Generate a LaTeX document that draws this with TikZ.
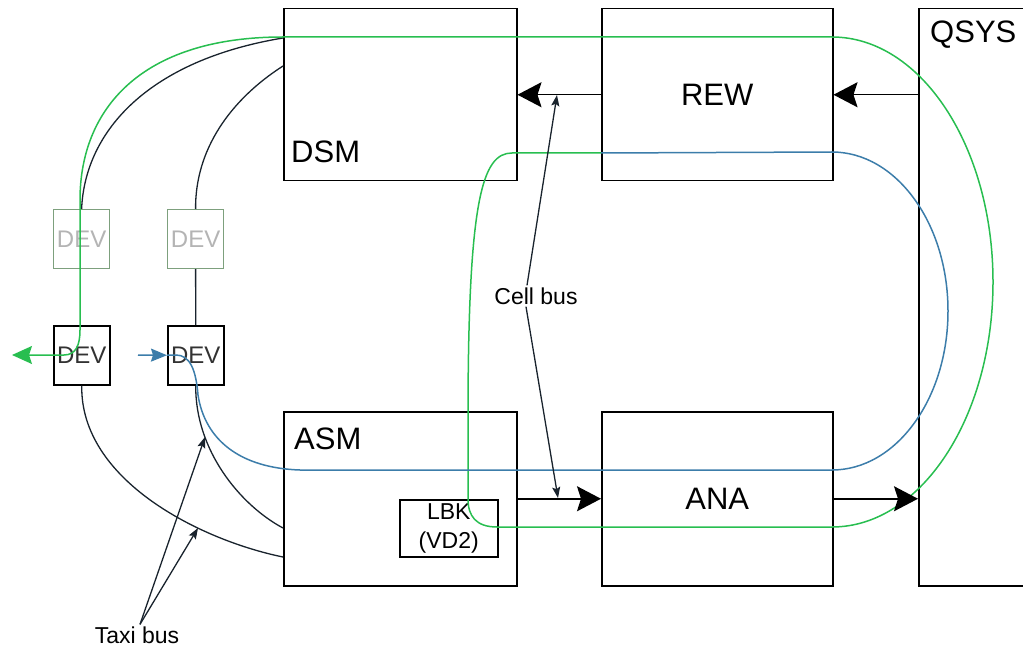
\documentclass[tikz,border=0pt]{standalone}
\usepackage{fontspec}
\setmainfont{Liberation Sans}
\usetikzlibrary{arrows.meta,calc}
\definecolor{gline}{RGB}{40,190,80}
\definecolor{bline}{RGB}{60,125,170}
\definecolor{dline}{RGB}{25,35,45}
\definecolor{gbox}{RGB}{125,160,125}
\definecolor{gtext}{RGB}{180,180,180}
\definecolor{devtext}{RGB}{50,50,50}
\begin{document}
\begin{tikzpicture}[x=1pt,y=-1pt,
  box/.style={draw=black,line width=1.5pt,anchor=north west,inner sep=0pt},
  bigfont/.style={font=\fontsize{31}{37}\selectfont},
  smallfont/.style={font=\fontsize{23}{29}\selectfont},
  devbox/.style={box,minimum width=56pt,minimum height=59pt,font=\fontsize{24}{28}\selectfont,text=devtext},
  gdevbox/.style={devbox,draw=gbox,line width=1.2pt,text=gtext},
  conn/.style={draw=black,line width=1.5pt},
  bigtip/.style={-{Stealth[length=24pt,width=25pt,inset=4pt]}},
  smalltip/.style={-{Stealth[length=11pt,width=8pt,inset=2pt]}},
  gl/.style={draw=gline,line width=1.5pt},
  bl/.style={draw=bline,line width=1.5pt},
  dl/.style={draw=dline,line width=1.3pt}]
\useasboundingbox (0,0) rectangle (1023,647);
\clip (0,0) rectangle (1023,647);
% boxes
\node[box,minimum width=233pt,minimum height=172pt] (dsm) at (283,8) {};
\node[box,minimum width=231pt,minimum height=172pt,bigfont] (rew) at (601,8) {REW};
\node[box,minimum width=130pt,minimum height=577pt] (qsys) at (918,8) {};
\node[box,minimum width=233pt,minimum height=174pt] (asm) at (283,411) {};
\node[box,minimum width=231pt,minimum height=174pt,bigfont] (ana) at (601,411) {ANA};
\node[box,minimum width=98pt,minimum height=57pt,smallfont,align=center] (lbk) at (399,499) {LBK\\(VD2)};
\node[bigfont,anchor=base west,inner sep=0pt] (dsml) at (291,163) {DSM};
\node[bigfont,anchor=base west,inner sep=0pt] (asml) at (294,449) {ASM};
\node[bigfont,anchor=base west,inner sep=0pt] (qsysl) at (930,43) {QSYS};
% devices
\node[gdevbox] (gdev1) at (53,209) {DEV};
\node[gdevbox] (gdev2) at (167,209) {DEV};
\node[devbox] (dev1) at (53,325) {DEV};
\node[devbox] (dev2) at (167,325) {DEV};
% labels
\node[smallfont,inner sep=2pt] (cell) at (536,296) {Cell bus};
\node[smallfont,inner sep=2pt] (taxi) at (137,635) {Taxi bus};
% coordinates
\coordinate (c1) at (557,95);
\coordinate (c2) at (558,498);
\coordinate (t1) at (205,437);
\coordinate (t2) at (198,528);
\coordinate (gtip) at (12,355);
\coordinate (btail) at (138,355);
\coordinate (d1) at (283,38);
\coordinate (d2) at (283,66);
\coordinate (a1) at (283,557);
\coordinate (a2) at (283,528);
% dark taxi-bus lines
\draw[dl] (d1) .. controls (150,60) and (85,130) .. (gdev1.north);
\draw[dl] (d2) .. controls (230,100) and (195,150) .. (gdev2.north);
\draw[dl] (gdev2.south) -- (dev2.north);
\draw[dl] (dev1.south) .. controls (80,480) and (200,540) .. (a1);
\draw[dl] (dev2.south) .. controls (195,450) and (240,505) .. (a2);
% green path
\draw[gl,{Stealth[length=20pt,width=18pt,inset=3pt]}-] (gtip) -- (64,355) .. controls (76,355) and (80,345) .. (80,330) -- (80,200) .. controls (80,110) and (140,37) .. (283,37) -- (832,37) arc[start angle=-90,end angle=90,x radius=161,y radius=245] -- (497,527) .. controls (476,527) and (468,516) .. (468,499) -- (468,420) .. controls (468,200) and (482,153) .. (512,153) -- (601,153);
% blue path
\draw[bl,-{Stealth[length=16pt,width=13pt,inset=2pt]}] (btail) -- (dev2.west);
\draw[bl] (dev2.west) -- (176,355) .. controls (190,355) and (196,370) .. (198,395) .. controls (205,440) and (240,468) .. (300,470) -- (832,470) arc[start angle=90,end angle=-90,x radius=116,y radius=159] -- (601,153);
% main connectors
\draw[conn,bigtip] (qsys.west |- rew.east) -- (rew.east);
\draw[conn,bigtip] (rew.west) -- (dsm.east);
\draw[conn,bigtip] (asm.east) -- (ana.west);
\draw[conn,bigtip] (ana.east) -- (ana.east -| qsys.west);
% bus label arrows
\draw[dl,smalltip] ([xshift=-9pt]cell.north) -- (c1);
\draw[dl,smalltip] ([xshift=-10pt]cell.south) -- (c2);
\draw[dl,smalltip] ([xshift=3pt]taxi.north) -- (t1);
\draw[dl,smalltip] ([xshift=3pt]taxi.north) -- (t2);
\end{tikzpicture}
\end{document}
